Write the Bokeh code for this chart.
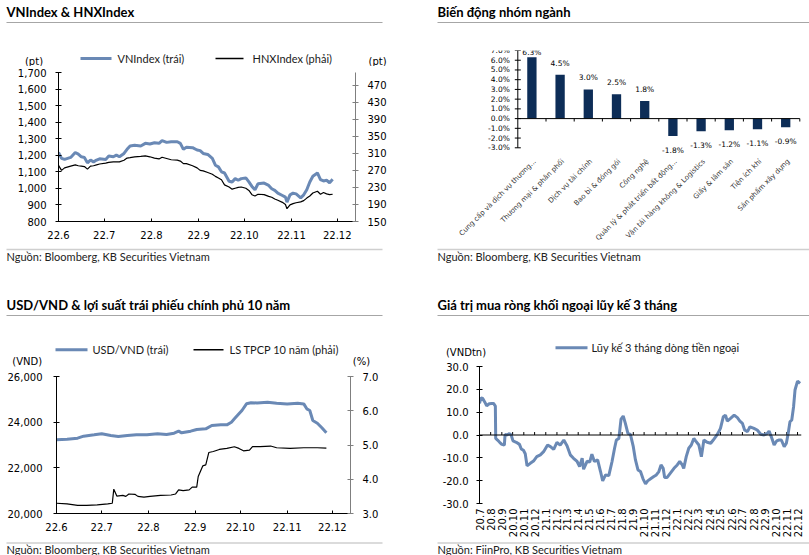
import math
import pandas as pd
from bokeh.plotting import figure
from bokeh.layouts import column, row
from bokeh.models import (Range1d, LinearAxis, FixedTicker, NumeralTickFormatter, Span)
from bokeh.core.properties import value
from bokeh.embed import file_html
from bokeh.resources import INLINE

# ---------------- data ----------------
# VNIndex & HNXIndex  (x = days since 2022-06-01)
idx_start = "2022-06-01"
idx_day = [0, 2, 4, 8, 11, 13, 15, 17, 19, 21, 23, 25, 27, 31, 33, 36, 38, 40, 43, 45,
           47, 50, 54, 57, 60, 63, 66, 68, 71, 74, 78, 80, 82, 84, 88, 91, 93, 95, 98, 101,
           103, 105, 107, 109, 112, 114, 116, 118, 120, 123, 125, 127, 129, 131, 135, 138, 140, 142, 144, 147,
           149, 150, 152, 154, 156, 159, 161, 163, 165, 167, 170, 172, 174, 176, 178, 180]
vnindex = [1217, 1181, 1175, 1187, 1217, 1207, 1191, 1187, 1154, 1171, 1160, 1171, 1179, 1175, 1195, 1191, 1201, 1191, 1211, 1236,
           1256, 1260, 1256, 1272, 1268, 1276, 1272, 1289, 1278, 1282, 1282, 1272, 1236, 1248, 1246, 1232, 1228, 1211, 1205, 1181,
           1140, 1130, 1100, 1093, 1043, 1039, 1059, 1049, 1059, 1063, 1039, 1012, 992, 1028, 1032, 1018, 998, 988, 971, 957,
           947, 917, 961, 971, 967, 943, 961, 992, 1039, 1073, 1093, 1053, 1045, 1049, 1034, 1055]
hnxindex = [282, 270, 276, 280, 283, 281, 280, 279, 273, 280, 281, 283, 285, 287, 289, 290, 290, 290, 294, 299,
            300, 302, 303, 304, 302, 299, 297, 301, 298, 295, 294, 292, 286, 286, 281, 276, 270, 269, 265, 261,
            256, 252, 248, 236, 231, 226, 228, 230, 231, 228, 223, 213, 210, 214, 213, 209, 207, 203, 200, 195,
            190, 180, 189, 192, 194, 196, 199, 205, 210, 217, 221, 214, 218, 215, 213, 214]
vn_ticks = list(range(800, 1701, 100))
hnx_ticks = list(range(150, 471, 40))

# Sector performance (%)
sectors = ["Cung cấp và dịch vụ thương...", "Thương mại & phân phối", "Dịch vụ tài chính",
           "Bao bì & đóng gói", "Công nghệ", "Quản lý & phát triển bất động...",
           "Vận tải hàng không & Logistics", "Giấy & lâm sản", "Tiện ích khí", "Sản phẩm xây dựng"]
sector_chg = [6.3, 4.5, 3.0, 2.5, 1.8, -1.8, -1.3, -1.2, -1.1, -0.9]
sector_ticks = list(range(-3, 8))

# USD/VND & 10Y government bond yield (x = days since 2022-06-01)
fx_start = "2022-06-01"
usd_day = [0, 7, 14, 18, 25, 30, 36, 41, 47, 53, 60, 67, 73, 78, 81, 83, 89, 93, 99, 103,
           109, 113, 116, 118, 121, 123, 126, 129, 133, 140, 146, 153, 160, 164, 166, 168, 170, 173, 176, 179]
usdvnd = [23226, 23255, 23299, 23387, 23445, 23489, 23416, 23372, 23416, 23445, 23445, 23489, 23460, 23518, 23606, 23533, 23606, 23679, 23708, 23854,
          23883, 23883, 24000, 24146, 24365, 24511, 24803, 24850, 24840, 24870, 24830, 24800, 24830, 24800, 24584, 24511, 24073, 23956, 23752, 23533]
bond_day = [0, 7, 14, 20, 27, 34, 37, 38, 40, 44, 46, 48, 52, 54, 58, 62, 69, 76, 79, 81,
            84, 88, 90, 93, 94, 97, 99, 101, 104, 108, 113, 118, 121, 124, 128, 130, 135, 142, 146, 155,
            164, 173, 179]
bond10y = [3.30, 3.28, 3.24, 3.24, 3.25, 3.28, 3.30, 3.71, 3.51, 3.53, 3.50, 3.57, 3.56, 3.50, 3.48, 3.50, 3.53, 3.54, 3.57, 3.69,
           3.67, 3.69, 3.77, 3.77, 4.08, 4.39, 4.42, 4.78, 4.81, 4.87, 4.90, 4.95, 4.90, 4.83, 4.85, 4.95, 4.95, 4.97, 4.92, 4.90,
           4.92, 4.92, 4.91]
usd_ticks = [20000, 22000, 24000, 26000]
bond_ticks = [3, 4, 5, 6, 7]

# Foreign net buying, 3-month cumulative (x = days since 2020-07-01)
flow_start = "2020-07-01"
flow_day = [0, 4, 9, 14, 20, 27, 34, 39, 44, 45,
            50, 56, 62, 69, 71, 76, 83, 88, 93, 102,
            111, 116, 122, 127, 132, 141, 150, 159, 169, 178,
            189, 197, 206, 215, 224, 234, 243, 252, 261, 271,
            278, 285, 289, 299, 306, 312, 319, 328, 336, 342,
            350, 359, 368, 375, 380, 387, 393, 399, 405, 412,
            419, 427, 433, 440, 447, 454, 461, 467, 475, 484,
            491, 498, 504, 510, 514, 521, 530, 540, 549, 556,
            563, 567, 574, 581, 588, 595, 600, 609, 616, 623,
            632, 642, 649, 656, 662, 669, 677, 683, 688, 697,
            707, 716, 723, 730, 736, 744, 751, 762, 771, 781,
            790, 799, 804, 810, 818, 825, 832, 838, 846, 852,
            857, 862, 867, 872, 876, 883, 890]
flow_val = [13.8, 16.3, 16.0, 14.6, 12.8, 13.7, 13.8, 13.8, 12.7, -1.5,
            -2.2, -3.2, -4.1, -4.4, 0.3, 0.0, 0.6, 0.0, -2.6, -3.2,
            -4.1, -6.1, -6.7, -8.2, -13.5, -12.4, -11.4, -9.5, -8.7, -7.3,
            -4.4, -5.1, -6.3, -3.2, -4.4, -2.2, -4.7, -8.7, -10.2, -11.6,
            -13.8, -10.2, -15.0, -11.4, -11.9, -8.4, -11.6, -10.9, -16.0, -20.1,
            -17.5, -17.8, -11.6, -5.8, -2.2, -1.5, 7.0, 8.3, 5.1, 0.7,
            0.3, -5.1, -10.9, -15.3, -16.0, -19.2, -21.4, -20.1, -19.2, -18.2,
            -17.5, -16.0, -13.1, -14.6, -18.6, -18.6, -16.7, -14.6, -13.1, -11.6,
            -13.1, -14.6, -9.5, -5.8, -4.4, -1.5, -2.6, -4.4, -9.5, -2.2,
            -3.2, -3.6, -2.2, -0.7, 0.7, 2.9, 8.0, 8.7, 6.1, 7.3,
            8.7, 7.6, 6.1, 5.1, 2.2, 1.5, 3.6, 2.9, 2.2, 0.3,
            0.0, 0.7, 1.7, -0.7, -4.4, -2.6, -2.2, -2.2, -5.1, -3.6,
            0.7, 5.8, 6.6, 12.4, 19.7, 23.6, 22.6]
flow_ticks = list(range(-30, 31, 10))

titles = ["VNIndex & HNXIndex", "Biến động nhóm ngành",
          "USD/VND & lợi suất trái phiếu chính phủ 10 năm", "Giá trị mua ròng khối ngoại lũy kế 3 tháng"]
sources = ["Nguồn: Bloomberg, KB Securities Vietnam", "Nguồn: Bloomberg, KB Securities Vietnam",
           "Nguồn: Bloomberg, KB Securities Vietnam", "Nguồn: FiinPro, KB Securities Vietnam"]
legend_tl = ["VNIndex (trái)", "HNXIndex (phải)"]
legend_bl = ["USD/VND (trái)", "LS TPCP 10 năm (phải)"]
legend_br = ["Lũy kế 3 tháng dòng tiền ngoại"]

# ---------------- style ----------------
BLUE = "#6a89b5"
NAVY = "#0d2d57"
FT = "Lato"
FA = "DejaVu Sans"


def month_ticks(start, end):
    s = pd.Timestamp(start)
    ms = pd.date_range(s, pd.Timestamp(end), freq="MS")
    ticks = [int((m - s).days) for m in ms]
    labels = {t: f"{m:%y}.{m.month}" for t, m in zip(ticks, ms)}
    return ticks, labels


def make_fig(w, h, l, r, t, b, xr, yr, **kw):
    p = figure(width=w, height=h, x_range=xr, y_range=yr, toolbar_location=None,
               output_backend="svg", min_border=0, min_border_left=l, min_border_right=r,
               min_border_top=t, min_border_bottom=b, frame_align=False, **kw)
    p.outline_line_color = None
    p.background_fill_color = "white"
    p.border_fill_color = "white"
    for g in p.grid:
        g.visible = False
    return p


def style_y(ax, color="black", size="10px", tin=3, tout=3, standoff=9):
    ax.axis_line_color = color
    ax.major_tick_line_color = color
    ax.minor_tick_line_color = None
    ax.major_tick_in = tin
    ax.major_tick_out = tout
    ax.major_label_text_font = FA
    ax.major_label_text_font_size = size
    ax.major_label_text_color = "black"
    ax.major_label_standoff = standoff


def style_x(ax, ticks, labels, standoff=9):
    ax.ticker = FixedTicker(ticks=ticks)
    ax.major_label_overrides = labels
    ax.axis_line_color = "black"
    ax.major_tick_line_color = "black"
    ax.minor_tick_line_color = None
    ax.major_tick_in = 3
    ax.major_tick_out = 0
    ax.major_label_text_font = FA
    ax.major_label_text_font_size = "10px"
    ax.major_label_text_color = "black"
    ax.major_label_standoff = standoff


def strip(w, x0, y0, y1):
    # page-pixel coordinate strip (x to the right, y downwards)
    p = figure(width=w, height=y1 - y0, x_range=Range1d(x0, x0 + w), y_range=Range1d(y1, y0),
               toolbar_location=None, output_backend="svg", min_border=0, frame_align=False,
               x_axis_type=None, y_axis_type=None)
    p.outline_line_color = None
    p.background_fill_color = "white"
    p.border_fill_color = "white"
    return p


def title(p, x, y_text, y_line, x_end, text):
    p.text(x=[x], y=[y_text], text=[text], text_font=value(FT), text_font_style="bold",
           text_font_size="13px", text_color="black", text_align="left", text_baseline="middle")
    p.segment(x0=[x], y0=[y_line], x1=[x_end], y1=[y_line], line_color="#a6a6a6", line_width=1.2)


def source(p, x, y_line, y_text, x_end, text):
    p.segment(x0=[x], y0=[y_line], x1=[x_end], y1=[y_line], line_color="#cfcfcf", line_width=1.5)
    p.text(x=[x], y=[y_text], text=[text], text_font=value(FT), text_font_size="11px",
           text_color="#222222", text_align="left", text_baseline="middle")


def legend_entry(p, x0, x1, y, color, width, tx, label):
    p.segment(x0=[x0], y0=[y], x1=[x1], y1=[y], line_color=color, line_width=width)
    p.text(x=[tx], y=[y], text=[label], text_font=value(FT), text_font_size="11px",
           text_color="#1a1a1a", text_align="left", text_baseline="middle")


def unit(p, x, y, text, align="center"):
    p.text(x=[x], y=[y], text=[text], text_font=value(FA), text_font_size="10px",
           text_color="black", text_align=align, text_baseline="middle")


# ================= LEFT COLUMN =================
m_ticks, m_labels = month_ticks(idx_start, "2022-12-01")

headL = strip(404, 0, 0, 66)
title(headL, 6, 11, 22, 382, titles[0])
legend_entry(headL, 80, 111, 58, BLUE, 3, 117, legend_tl[0])
legend_entry(headL, 215, 243, 58, "black", 1.5, 252, legend_tl[1])
unit(headL, 33.5, 60.5, "(pt)")
unit(headL, 368, 60.5, "(pt)", align="left")

# VNIndex & HNXIndex chart (page y 66..247, frame 72..221)
tl = make_fig(404, 181, 58, 49, 6, 26, Range1d(0, 195), Range1d(800, 1700))
tl.extra_y_ranges = {"hnx": Range1d(150, 500)}
ya = tl.yaxis[0]
ya.ticker = FixedTicker(ticks=vn_ticks)
ya.formatter = NumeralTickFormatter(format="0,0")
style_y(ya)
ra = LinearAxis(y_range_name="hnx", ticker=FixedTicker(ticks=hnx_ticks))
style_y(ra, color="#7f7f7f")
tl.add_layout(ra, "right")
style_x(tl.xaxis[0], m_ticks, m_labels)
tl.line(idx_day, vnindex, line_color=BLUE, line_width=3)
tl.line(idx_day, hnxindex, y_range_name="hnx", line_color="black", line_width=1.2)

midL = strip(404, 0, 247, 368)
source(midL, 6, 249, 256, 382, sources[0])
title(midL, 6, 304, 315, 382, titles[2])
legend_entry(midL, 55, 87, 349.3, BLUE, 3, 92, legend_bl[0])
legend_entry(midL, 193, 223, 349.3, "black", 1.5, 229, legend_bl[1])
unit(midL, 26.7, 361, "(VND)")
unit(midL, 361, 361, "(%)")

# USD/VND & bond chart (page y 368..540, frame 376..513)
bl = make_fig(404, 172, 56, 54, 8, 27, Range1d(0, 195), Range1d(20000, 26000))
bl.extra_y_ranges = {"bond": Range1d(3, 7)}
ya3 = bl.yaxis[0]
ya3.ticker = FixedTicker(ticks=usd_ticks)
ya3.formatter = NumeralTickFormatter(format="0,0")
style_y(ya3, standoff=11)
ra3 = LinearAxis(y_range_name="bond", ticker=FixedTicker(ticks=bond_ticks),
                 formatter=NumeralTickFormatter(format="0.0"))
style_y(ra3, color="#7f7f7f", standoff=9)
bl.add_layout(ra3, "right")
style_x(bl.xaxis[0], m_ticks, m_labels)
bl.line(usd_day, usdvnd, line_color=BLUE, line_width=3)
bl.line(bond_day, bond10y, y_range_name="bond", line_color="black", line_width=1.2)

footL = strip(404, 0, 540, 555)
source(footL, 6, 542.5, 548.5, 382, sources[2])

# ================= RIGHT COLUMN =================
headR = strip(405, 404, 0, 30)
title(headR, 437, 11, 22, 809, titles[1])

# Sector bar chart (page y 30..247, frame 50..247; x frame spans page 404..809)
n = len(sectors)
cat_px = 28.2
x_lo = -(517.3 - 404) / cat_px
x_hi = n + (809 - 799.3) / cat_px
tr = make_fig(405, 217, 0, 0, 20, 0, Range1d(x_lo, x_hi), Range1d(-13.25, 7.0),
              x_axis_type=None, y_axis_type=None)
centers = [i + 0.5 for i in range(n)]
bounds_x = [i + 1 for i in range(n)]
# y axis drawn by hand, so the rotated category labels may extend left of it
tr.segment(x0=[0], y0=[sector_ticks[0]], x1=[0], y1=[sector_ticks[-1]], line_color="black", line_width=1)
tr.scatter(x=[0] * len(sector_ticks), y=sector_ticks, marker="dash", size=6, line_color="black", line_width=1)
tr.text(x=[0] * len(sector_ticks), y=sector_ticks, text=[f"{t:.1f}%" for t in sector_ticks],
        x_offset=-8, text_align="right", text_baseline="middle", text_font=value(FA),
        text_font_size="7.5px", text_color="black")
tr.vbar(x=centers, top=sector_chg, bottom=0, width=0.33, fill_color=NAVY, line_color=None)
tr.segment(x0=[0], y0=[0], x1=[n], y1=[0], line_color="black", line_width=1)
tr.segment(x0=bounds_x, y0=[0] * n, x1=bounds_x, y1=[-0.3] * n, line_color="black", line_width=1)
label_y = [min(v + 1.2, 6.75) if v >= 0 else v - 1.5 for v in sector_chg]
tr.text(x=centers, y=label_y, text=[f"{v:.1f}%" for v in sector_chg], text_align="center",
        text_baseline="middle", text_font=value(FA), text_font_size="7.5px", text_color="black")
tr.text(x=centers, y=[-4.3] * n, text=sectors, angle=math.pi / 4, x_offset=3,
        text_align="right", text_baseline="middle", text_font=value(FA),
        text_font_size="7px", text_color="#333333")

midR = strip(405, 404, 247, 358)
source(midR, 437, 249, 256, 809, sources[1])
title(midR, 437, 304, 315, 809, titles[3])
legend_entry(midR, 555, 587, 347.3, BLUE, 3, 591, legend_br[0])
unit(midR, 465.5, 351.5, "(VNDtn)")

# Foreign flow chart (page y 358..540, frame 366..504)
f_ticks, f_labels = month_ticks(flow_start, "2022-12-01")
br = make_fig(405, 182, 75, 8, 8, 36, Range1d(0, 894), Range1d(-30, 30))
ya4 = br.yaxis[0]
ya4.ticker = FixedTicker(ticks=flow_ticks)
ya4.formatter = NumeralTickFormatter(format="0.0")
style_y(ya4, standoff=8)
xa4 = br.xaxis[0]
style_x(xa4, f_ticks, f_labels, standoff=5)
xa4.axis_line_color = None
xa4.major_tick_line_color = None
xa4.major_tick_in = 0
xa4.major_label_orientation = math.pi / 2
br.add_layout(Span(location=0, dimension="width", line_color="black", line_width=1))
br.segment(x0=f_ticks, y0=[0] * len(f_ticks), x1=f_ticks, y1=[1.3] * len(f_ticks),
           line_color="black", line_width=1)
br.line(flow_day, flow_val, line_color=BLUE, line_width=3)

footR = strip(405, 404, 540, 555)
source(footR, 437, 542.5, 548.5, 809, sources[3])

left = column(headL, tl, midL, bl, footL)
right = column(headR, tr, midR, br, footR)
layout = row(left, right)
open("out.html", "w").write(file_html(layout, INLINE))
